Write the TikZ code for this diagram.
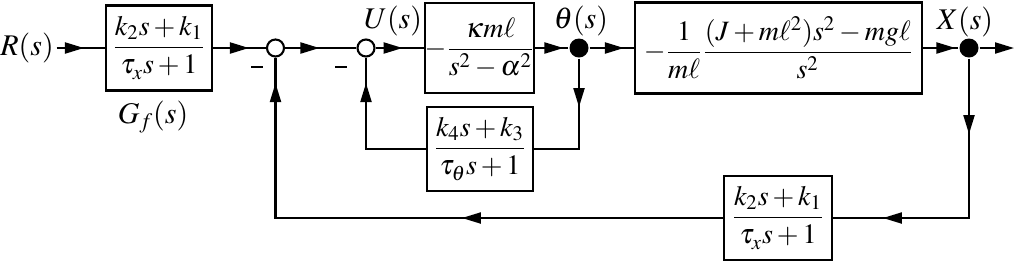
\documentclass[tikz,border=0pt]{standalone}
\usepackage{amsmath}
\usepackage{mathptmx}
\usetikzlibrary{arrows.meta,decorations.markings}
\tikzset{
  tipshape/.tip={Triangle[length=9.5pt,width=5.5pt]},
  arrowat/.style={decoration={markings,mark=at position #1 with {\arrow{tipshape}}},postaction={decorate}},
  arrowtwo/.style 2 args={decoration={markings,mark=at position #1 with {\arrow{tipshape}},mark=at position #2 with {\arrow{tipshape}}},postaction={decorate}},
  blk/.style={draw,inner sep=0pt,fill=white},
  sumnode/.style={circle,draw,fill=white,inner sep=0pt,minimum size=8.5pt},
  dotnode/.style={circle,fill=black,inner sep=0pt,minimum size=9.5pt},
  lbl/.style={inner sep=1pt,font=\fontsize{15}{18}\selectfont},
  minus/.style={inner sep=0pt},
}
\begin{document}
\begin{tikzpicture}[x=0.5pt,y=-0.5pt,line width=1.05pt,font=\fontsize{14}{17}\selectfont]
\useasboundingbox (0,0) rectangle (1017,264);
% blocks
\node[blk,minimum width=53pt,minimum height=42.5pt] (gf) at (159,48) {$\dfrac{k_2s+k_1}{\tau_{\lower1pt\hbox{$\scriptstyle x$}} s+1}$};
\node[blk,minimum width=53.5pt,minimum height=45pt] (k) at (479.5,48) {$-\dfrac{\kappa m\ell}{s^2-\alpha^2}$};
\node[blk,minimum width=143.5pt,minimum height=45.5pt] (big) at (778.5,48) {$-\dfrac{1}{m\ell}\dfrac{(J+m\ell^2)s^2-mg\ell}{s^2}$};
\node[blk,minimum width=53pt,minimum height=42pt] (kth) at (480,149) {$\dfrac{k_4s+k_3}{\tau_{\lower1pt\hbox{$\scriptstyle \theta$}} s+1}$};
\node[blk,minimum width=54pt,minimum height=42pt] (kx) at (778,218) {$\dfrac{k_2s+k_1}{\tau_{\lower1pt\hbox{$\scriptstyle x$}} s+1}$};
% junctions
\node[sumnode] (s1) at (275.5,48) {};
\node[sumnode] (s2) at (366,48) {};
\node[dotnode] (th) at (579,48) {};
\node[dotnode] (xo) at (969,48) {};
\coordinate (out) at (1014,48);
% labels
\node[lbl] (R) at (27,48) {$R(s)$};
\node[lbl] (lGf) at (153,117) {$G_f(s)$};
\node[lbl] (lU) at (393,21) {$U(s)$};
\node[lbl] (lth) at (581,21) {$\theta(s)$};
\node[lbl] (lX) at (965,22) {$X(s)$};
\node[minus] (m1) at (257,67) {\rule{6pt}{1.4pt}};
\node[minus] (m2) at (341,67) {\rule{6pt}{1.4pt}};
% connectors
\draw[arrowat=-10.5pt] (R) -- (gf);
\draw[arrowat=-8.5pt] (gf) -- (s1);
\draw[arrowat=-18.5pt] (s1) -- (s2);
\draw[arrowat=-10.5pt] (s2) -- (k);
\draw[arrowat=-2.5pt] (k) -- (th);
\draw[arrowat=-5pt] (th) -- (big);
\draw[arrowat=-1.5pt] (big) -- (xo);
\draw[-tipshape] (xo) -- (out);
\draw[arrowat=24.25pt] (th) -- (th |- kth) -- (kth);
\draw[arrowat=-12.75pt] (kth) -- (s2 |- kth) -- (s2);
\draw[arrowtwo={37.75pt}{122.75pt}] (xo) -- (xo |- kx) -- (kx);
\draw[arrowtwo={130.5pt}{-12.75pt}] (kx) -- (s1 |- kx) -- (s1);
\end{tikzpicture}
\end{document}
